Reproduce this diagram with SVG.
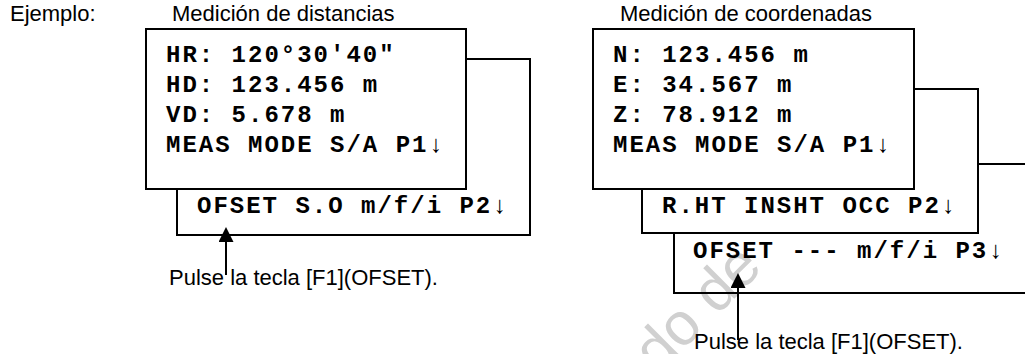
<svg xmlns="http://www.w3.org/2000/svg" width="1025" height="354" viewBox="0 0 1025 354">
<style>
.lbl{font-family:"Liberation Sans",Arial,sans-serif;font-size:22px;fill:#000}
.lcd{font-family:"Liberation Mono","Courier New",monospace;font-size:24px;font-weight:bold;letter-spacing:2px;fill:#000}
.box{stroke:#000;stroke-width:2;fill:#fff}
.boxo{stroke:#000;stroke-width:2;fill:none}
.wm{font-family:"Liberation Sans",Arial,sans-serif;font-size:60px;fill:#d0d0d0}
.conn{stroke:#000;stroke-width:2;fill:none}
</style>
<defs>
<marker id="ah" viewBox="0 0 15 15" refX="12" refY="7.5" markerWidth="15" markerHeight="15" markerUnits="userSpaceOnUse" orient="auto">
<path d="M0,0 L15,7.5 L0,15 z" fill="#000"/>
</marker>
</defs>
<rect width="1025" height="354" fill="#fff"/>
<text class="lbl" x="10" y="21">Ejemplo:</text>
<text class="lbl" x="172" y="21">Medición de distancias</text>
<text class="lbl" x="620" y="21">Medición de coordenadas</text>
<text class="wm" transform="translate(658,375) rotate(-45)">do de</text>
<g id="dist-p2">
<rect class="box" x="177" y="59" width="353" height="176"/>
<text class="lcd" x="197" y="213">OFSET S.O m/f/i P2↓</text>
</g>
<g id="dist-p1">
<rect class="box" x="146" y="29" width="320" height="160"/>
<text class="lcd" x="166" y="62">HR: 120°30'40"</text>
<text class="lcd" x="166" y="92">HD: 123.456 m</text>
<text class="lcd" x="166" y="122">VD: 5.678 m</text>
<text class="lcd" x="166" y="152">MEAS MODE S/A P1↓</text>
</g>
<g id="coord-p3">
<rect class="boxo" x="674" y="164" width="370" height="129"/>
<text class="lcd" x="693" y="258">OFSET --- m/f/i P3↓</text>
</g>
<g id="coord-p2">
<rect class="box" x="642" y="89" width="336" height="144"/>
<text class="lcd" x="662" y="213">R.HT INSHT OCC P2↓</text>
</g>
<g id="coord-p1">
<rect class="box" x="593" y="29" width="321" height="160"/>
<text class="lcd" x="613" y="62">N: 123.456 m</text>
<text class="lcd" x="613" y="92">E: 34.567 m</text>
<text class="lcd" x="613" y="122">Z: 78.912 m</text>
<text class="lcd" x="613" y="152">MEAS MODE S/A P1↓</text>
</g>
<g id="connectors">
<line class="conn" x1="226" y1="275" x2="226" y2="230" marker-end="url(#ah)"/>
<line class="conn" x1="738" y1="340" x2="738" y2="276" marker-end="url(#ah)"/>
</g>
<text class="lbl" x="169" y="285">Pulse la tecla [F1](OFSET).</text>
<text class="lbl" x="694" y="349">Pulse la tecla [F1](OFSET).</text>
</svg>
